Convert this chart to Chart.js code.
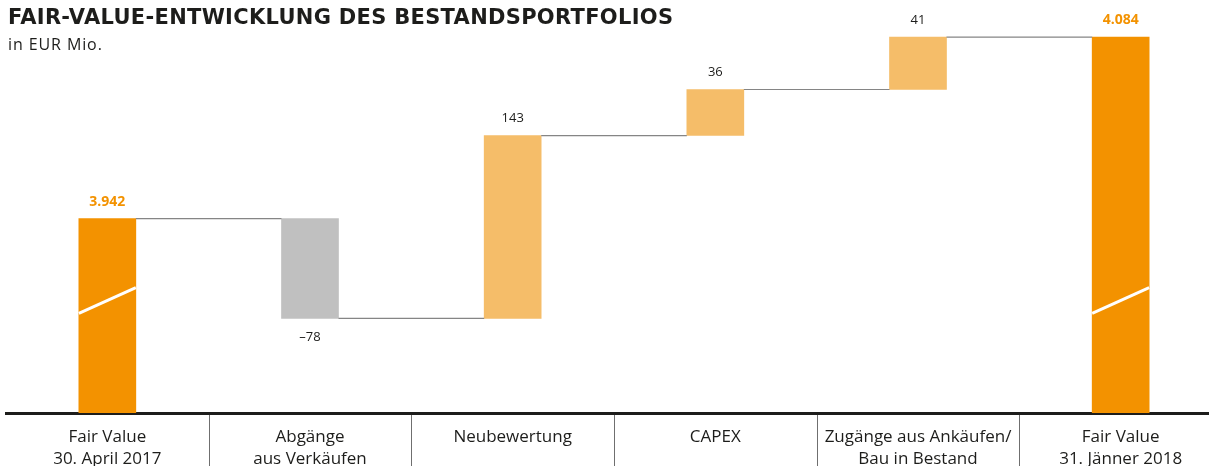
<!DOCTYPE html>
<html>
<head>
<meta charset="utf-8">
<script src="https://cdn.jsdelivr.net/npm/chart.js@4"></script>
<style>
  html, body { margin: 0; padding: 0; background: #fff; overflow: hidden; }
  #wrap { position: relative; width: 1222px; height: 478px; }
  #title { position: absolute; left: 8px; top: 5px; font: bold 21px "DejaVu Sans", sans-serif; color: #1d1d1b; letter-spacing: 0.3px; }
  #sub { position: absolute; left: 8px; top: 33px; font: 16px "Open Sans", sans-serif; color: #1d1d1b; letter-spacing: 0.9px; }
</style>
</head>
<body>
<div id="wrap">
  <canvas id="chart"></canvas>
  <div id="title">FAIR-VALUE-ENTWICKLUNG DES BESTANDSPORTFOLIOS</div>
  <div id="sub">in EUR Mio.</div>
</div>
<script>
// data
const categories = [
    ['Fair Value', '30. April 2017'],
    ['Abgänge', 'aus Verkäufen'],
    ['Neubewertung'],
    ['CAPEX'],
    ['Zugänge aus Ankäufen/', 'Bau in Bestand'],
    ['Fair Value', '31. Jänner 2018']
]
const values = [3942, -78, 143, 36, 41, 4084]
const isTotal = [true, false, false, false, false, true]
const axisMin = 3790
const axisMax = 4113
const breakAt = [3868, 3888]

const ORANGE = '#F39200'
const LIGHT = '#F5BD69'
const GREY = '#C0C0C0'

// build floating bars
let running = 0
let ranges = []
let colors = []
values.forEach(function (v, i) {
    if (isTotal[i]) {
        ranges.push([axisMin, v])
        running = v
        colors.push(ORANGE)
    } else {
        ranges.push([running, running + v])
        running += v
        colors.push(v < 0 ? GREY : LIGHT)
    }
})

function fmt(v) {
    let s = Math.abs(v).toLocaleString('de-DE')
    return v < 0 ? '\u2013' + s : s
}

const waterfallPlugin = {
    id: 'waterfall',
    afterDatasetsDraw(chart) {
        const ctx = chart.ctx
        const meta = chart.getDatasetMeta(0)
        const y = chart.scales.y
        const area = chart.chartArea
        ctx.save()
        // break marks on total bars
        meta.data.forEach(function (bar, i) {
            if (!isTotal[i]) return
            let half = bar.width / 2
            ctx.strokeStyle = '#fff'
            ctx.lineWidth = 3
            ctx.beginPath()
            ctx.moveTo(bar.x - half, y.getPixelForValue(breakAt[0]))
            ctx.lineTo(bar.x + half, y.getPixelForValue(breakAt[1]))
            ctx.stroke()
        })
        // connectors
        ctx.strokeStyle = '#858585'
        ctx.lineWidth = 1.2
        for (let i = 0; i < meta.data.length - 1; i++) {
            let a = meta.data[i], b = meta.data[i + 1]
            let level = y.getPixelForValue(ranges[i][1])
            ctx.beginPath()
            ctx.moveTo(a.x + a.width / 2, level)
            ctx.lineTo(b.x - b.width / 2, level)
            ctx.stroke()
        }
        // value labels
        ctx.textAlign = 'center'
        ctx.textBaseline = 'middle'
        meta.data.forEach(function (bar, i) {
            let v = values[i]
            if (isTotal[i]) {
                ctx.fillStyle = ORANGE
                ctx.font = 'bold 14px "Open Sans", sans-serif'
                ctx.fillText(fmt(v), bar.x, y.getPixelForValue(v) - 17)
            } else if (v < 0) {
                ctx.fillStyle = '#1d1d1b'
                ctx.font = '13px "Open Sans", sans-serif'
                ctx.fillText(fmt(v), bar.x, y.getPixelForValue(ranges[i][1]) + 19)
            } else {
                ctx.fillStyle = '#1d1d1b'
                ctx.font = '13px "Open Sans", sans-serif'
                ctx.fillText(fmt(v), bar.x, y.getPixelForValue(ranges[i][1]) - 17)
            }
        })
        // separators below the axis
        const x = chart.scales.x
        ctx.strokeStyle = '#6f6f6f'
        ctx.lineWidth = 1
        for (let i = 0; i < categories.length - 1; i++) {
            let px = Math.round((x.getPixelForValue(i) + x.getPixelForValue(i + 1)) / 2) + 0.5
            ctx.beginPath()
            ctx.moveTo(px, area.bottom + 2)
            ctx.lineTo(px, chart.height)
            ctx.stroke()
        }
        ctx.restore()
    }
}

const ctx = document.getElementById('chart').getContext('2d')
let myChart = new Chart(ctx, {
    type: 'bar',
    data: {
        labels: categories,
        datasets: [{
            data: ranges,
            backgroundColor: colors,
            borderWidth: 0,
            barThickness: 57
        }]
    },
    options: {
        responsive: true,
        maintainAspectRatio: false,
        animation: false,
        layout: { padding: { left: 6, right: 0, top: 0, bottom: 0 } },
        plugins: {
            legend: { display: false },
            tooltip: { enabled: false }
        },
        scales: {
            x: {
                afterFit: function (scale) { scale.height = 65 },
                grid: { display: false, drawTicks: false },
                border: { display: true, color: '#1d1d1b', width: 3 },
                ticks: {
                    autoSkip: false,
                    maxRotation: 0,
                    padding: 13,
                    color: '#1d1d1b',
                    font: { family: '"Open Sans", sans-serif', size: 17, lineHeight: 1.3 }
                }
            },
            y: {
                display: false,
                min: axisMin,
                max: axisMax
            }
        }
    },
    plugins: [waterfallPlugin]
})
</script>
</body>
</html>
